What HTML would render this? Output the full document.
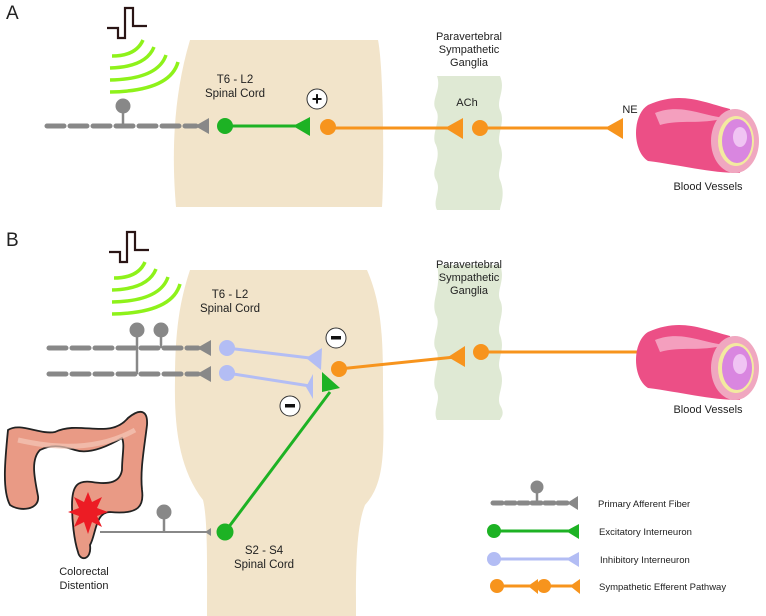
<!DOCTYPE html>
<html><head><meta charset="utf-8"><style>
html,body{margin:0;padding:0;background:#fff;}
svg{display:block;font-family:"Liberation Sans",sans-serif;}
</style></head><body>
<svg width="766" height="616" viewBox="0 0 766 616" xmlns="http://www.w3.org/2000/svg">
<defs>
<g id="vessel">
  <path d="M648,332 C680,318 700,328 730,336 L740,400 C710,400 680,392 648,388 C632,378 632,342 648,332 Z" fill="#ec4f86"/>
  <path d="M655,340 C680,330 700,342 725,345 C700,352 680,346 660,352 Z" fill="#f6b3cc" opacity="0.8"/>
  <ellipse cx="735" cy="368" rx="24" ry="32" fill="#f0a7c0"/>
  <ellipse cx="736" cy="368" rx="18" ry="25" fill="#f3eaa0"/>
  <ellipse cx="737" cy="368" rx="15" ry="22" fill="#d986e0"/>
  <ellipse cx="740" cy="364" rx="7" ry="10" fill="#f0c4f3"/>
</g>
<g id="waves" fill="none" stroke="#8ef21a" stroke-width="3.5">
  <path d="M112,56 Q136,56 143,40"/>
  <path d="M110,68 Q146,67 154,47"/>
  <path d="M110,80 Q158,79 166,55"/>
  <path d="M110,92 Q170,91 178,62"/>
</g>
</defs>

<!-- Panel A -->
<text x="6" y="19" font-size="19" fill="#222">A</text>
<path d="M190,40 L378,40 C384,70 384,180 382,207 L176,207 C172,160 172,100 190,40 Z" fill="#f2e4ca"/>
<path d="M437,76 L500,76 C506,90 496,100 500,110 C506,122 496,135 500,145 C506,160 496,170 500,180 C506,195 500,205 500,210 L437,210 C432,200 442,190 436,180 C430,170 442,160 436,145 C430,135 442,120 436,110 C430,100 442,90 437,76 Z" fill="#dfe9d4"/>
<text font-size="11" fill="#222" text-anchor="middle"><tspan x="469" y="40">Paravertebral</tspan><tspan x="469" y="53">Sympathetic</tspan><tspan x="469" y="66">Ganglia</tspan></text>
<path d="M107,28 L118,28 L118,38 L125,38 L125,8 L133,8 L133,26 L147,26" fill="none" stroke="#2a1515" stroke-width="2.2"/>
<use href="#waves"/>
<text font-size="11.5" fill="#222" text-anchor="middle"><tspan x="235" y="83">T6 - L2</tspan><tspan x="235" y="97">Spinal Cord</tspan></text>
<line x1="47" y1="126" x2="196" y2="126" stroke="#888" stroke-width="5" stroke-dasharray="17,6" stroke-linecap="round"/>
<line x1="123" y1="106" x2="123" y2="126" stroke="#888" stroke-width="2.5"/>
<circle cx="123" cy="106" r="7.5" fill="#888"/>
<polygon points="195,126 209,118 209,134" fill="#888"/>
<circle cx="225" cy="126" r="8" fill="#1db224"/>
<line x1="225" y1="126" x2="300" y2="126" stroke="#1db224" stroke-width="3"/>
<polygon points="293,126 310,117 310,136" fill="#1db224"/>
<circle cx="317" cy="99" r="10" fill="#fff" stroke="#333" stroke-width="1"/>
<text x="317" y="105" font-size="18" font-weight="bold" text-anchor="middle" fill="#111">+</text>
<circle cx="328" cy="127" r="8" fill="#f7941d"/>
<line x1="328" y1="128" x2="450" y2="128" stroke="#f7941d" stroke-width="3"/>
<polygon points="445,128 463,118 463,139" fill="#f7941d"/>
<text x="467" y="106" font-size="11" text-anchor="middle" fill="#222">ACh</text>
<circle cx="480" cy="128" r="8" fill="#f7941d"/>
<line x1="480" y1="128" x2="610" y2="128" stroke="#f7941d" stroke-width="3"/>
<polygon points="605,128 623,118 623,139" fill="#f7941d"/>
<text x="630" y="113" font-size="11" text-anchor="middle" fill="#222">NE</text>
<use href="#vessel" transform="translate(0,-227)"/>
<text x="708" y="190" font-size="11" text-anchor="middle" fill="#222">Blood Vessels</text>

<!-- Panel B -->
<text x="6" y="246" font-size="19" fill="#222">B</text>
<path d="M190,270 L367,270 C380,300 383,330 383,380 C383,440 388,480 365,505 C355,530 356,580 356,616 L207,616 C207,570 208,520 203,500 C180,470 174,430 175,380 C175,330 180,300 190,270 Z" fill="#f2e4ca"/>
<path d="M437,265 L500,265 C506,280 496,290 500,300 C506,312 496,325 500,335 C506,350 496,360 500,370 C506,385 496,395 500,405 C506,415 500,418 500,420 L437,420 C432,410 442,400 436,390 C430,380 442,360 436,350 C430,340 442,325 436,315 C430,300 442,290 437,265 Z" fill="#dfe9d4"/>
<text font-size="11" fill="#222" text-anchor="middle"><tspan x="469" y="268">Paravertebral</tspan><tspan x="469" y="281">Sympathetic</tspan><tspan x="469" y="294">Ganglia</tspan></text>
<path d="M109,252 L120,252 L120,262 L127,262 L127,232 L135,232 L135,250 L149,250" fill="none" stroke="#2a1515" stroke-width="2.2"/>
<use href="#waves" transform="translate(2,222)"/>
<text font-size="11.5" fill="#222" text-anchor="middle"><tspan x="230" y="298">T6 - L2</tspan><tspan x="230" y="312">Spinal Cord</tspan></text>
<line x1="49" y1="348" x2="198" y2="348" stroke="#888" stroke-width="5" stroke-dasharray="17,6" stroke-linecap="round"/>
<line x1="49" y1="374" x2="198" y2="374" stroke="#888" stroke-width="5" stroke-dasharray="17,6" stroke-linecap="round"/>
<line x1="137" y1="330" x2="137" y2="374" stroke="#888" stroke-width="2.5"/>
<line x1="161" y1="330" x2="161" y2="348" stroke="#888" stroke-width="2.5"/>
<circle cx="137" cy="330" r="7.5" fill="#888"/>
<circle cx="161" cy="330" r="7.5" fill="#888"/>
<polygon points="197,348 211,340 211,356" fill="#888"/>
<polygon points="197,374 211,366 211,382" fill="#888"/>
<circle cx="227" cy="348" r="8" fill="#b3bdf4"/>
<circle cx="227" cy="373" r="8" fill="#b3bdf4"/>
<line x1="227" y1="348" x2="310" y2="358" stroke="#b3bdf4" stroke-width="3"/>
<line x1="227" y1="373" x2="310" y2="386" stroke="#b3bdf4" stroke-width="3"/>
<polygon points="306,358 322,348 321,370" fill="#b3bdf4"/>
<polygon points="306,387 313,374 313,399" fill="#b3bdf4"/>
<line x1="225" y1="532" x2="330" y2="392" stroke="#1db224" stroke-width="3"/>
<polygon points="322,392 340,388 322,372" fill="#1db224"/>
<circle cx="225" cy="532" r="8.5" fill="#1db224"/>
<circle cx="336" cy="338" r="10" fill="#fff" stroke="#333" stroke-width="1"/>
<rect x="331" y="336" width="10" height="3.5" fill="#111"/>
<circle cx="290" cy="406" r="10" fill="#fff" stroke="#333" stroke-width="1"/>
<rect x="285" y="404" width="10" height="3.5" fill="#111"/>
<circle cx="339" cy="369" r="8" fill="#f7941d"/>
<line x1="339" y1="369" x2="455" y2="357" stroke="#f7941d" stroke-width="3"/>
<polygon points="448,357 465,346 465,367" fill="#f7941d"/>
<circle cx="481" cy="352" r="8" fill="#f7941d"/>
<line x1="481" y1="352" x2="672" y2="352" stroke="#f7941d" stroke-width="3"/>
<polygon points="666,352 683,342 683,363" fill="#f7941d"/>
<use href="#vessel"/>
<text x="708" y="413" font-size="11" text-anchor="middle" fill="#222">Blood Vessels</text>

<!-- colon -->
<path d="M8,430 C20,422 40,435 55,432 C80,420 110,440 128,418 C140,408 148,410 147,425 C144,450 140,470 142,490 C144,505 140,515 110,512 C95,512 96,535 90,545 C92,560 80,562 78,552 C74,540 72,520 72,505 C72,485 78,480 92,482 C110,485 120,482 122,470 C122,455 125,445 122,438 C110,445 90,455 75,450 C60,445 50,445 40,450 C30,460 35,480 38,496 C40,510 20,512 10,505 C2,490 5,460 8,430 Z" fill="#e99a85" stroke="#222" stroke-width="1.8"/>
<path d="M18,440 C40,445 90,455 135,430" fill="none" stroke="#f4c7b8" stroke-width="5" opacity="0.7"/>
<polygon points="88,492 92,502 102,497 97,508 108,512 97,516 102,527 92,522 88,534 84,522 74,527 79,516 68,512 79,508 74,497 84,502" fill="#ec1c24"/>
<line x1="100" y1="532" x2="207" y2="532" stroke="#888" stroke-width="2"/>
<line x1="164" y1="512" x2="164" y2="532" stroke="#888" stroke-width="2.5"/>
<circle cx="164" cy="512" r="7.5" fill="#888"/>
<polygon points="205,532 211,528 211,536" fill="#888"/>
<text font-size="11" fill="#222" text-anchor="middle"><tspan x="84" y="575">Colorectal</tspan><tspan x="84" y="589">Distention</tspan></text>
<text font-size="11.5" fill="#222" text-anchor="middle"><tspan x="264" y="554">S2 - S4</tspan><tspan x="264" y="568">Spinal Cord</tspan></text>

<!-- legend -->
<line x1="493" y1="503" x2="570" y2="503" stroke="#888" stroke-width="5" stroke-dasharray="9,4" stroke-linecap="round"/>
<line x1="537" y1="488" x2="537" y2="503" stroke="#888" stroke-width="2.5"/>
<circle cx="537" cy="487" r="6.5" fill="#888"/>
<polygon points="567,503 578,496 578,510" fill="#888"/>
<text x="598" y="507" font-size="9.5" fill="#222">Primary Afferent Fiber</text>
<circle cx="494" cy="531" r="7" fill="#1db224"/>
<line x1="494" y1="531" x2="572" y2="531" stroke="#1db224" stroke-width="3"/>
<polygon points="566,531 579,524 579,539" fill="#1db224"/>
<text x="599" y="535" font-size="9.5" fill="#222">Excitatory Interneuron</text>
<circle cx="494" cy="559" r="7" fill="#b3bdf4"/>
<line x1="494" y1="559" x2="572" y2="559" stroke="#b3bdf4" stroke-width="3"/>
<polygon points="566,559 579,552 579,567" fill="#b3bdf4"/>
<text x="600" y="563" font-size="9.5" fill="#222">Inhibitory Interneuron</text>
<circle cx="497" cy="586" r="7" fill="#f7941d"/>
<line x1="497" y1="586" x2="532" y2="586" stroke="#f7941d" stroke-width="3"/>
<polygon points="528,586 538,579 538,594" fill="#f7941d"/>
<circle cx="544" cy="586" r="7" fill="#f7941d"/>
<line x1="544" y1="586" x2="575" y2="586" stroke="#f7941d" stroke-width="3"/>
<polygon points="570,586 580,579 580,594" fill="#f7941d"/>
<text x="599" y="590" font-size="9.5" fill="#222">Sympathetic Efferent Pathway</text>
</svg>
</body></html>
